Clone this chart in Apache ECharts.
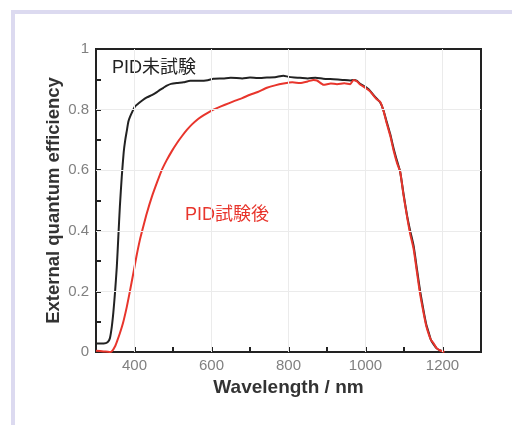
<!DOCTYPE html>
<html><head><meta charset="utf-8">
<script src="https://cdn.jsdelivr.net/npm/echarts@6/dist/echarts.min.js"></script>
<style>html,body{margin:0;padding:0;background:#fff}#c{width:512px;height:425px}</style>
</head><body><div id="c"></div>
<script>
// Wavelength (nm) and EQE for the untested module (PID未試験)
const blackX = [300,320,330,336,341,345,349,354,358,362,367,372,376,380,384,388,395,401,410,420,432,445,455,466,475,484,495,510,527,545,570,590,605,630,650,680,700,720,744,765,787,800,815,830,850,870,890,917,940,960,969,978,986,995,1004,1012,1021,1030,1038,1046,1055,1064,1073,1082,1090,1099,1108,1116,1125,1134,1142,1151,1158,1164,1170,1177,1185,1194,1205,1215];
const blackY = [0.028,0.028,0.032,0.045,0.083,0.13,0.19,0.28,0.38,0.48,0.58,0.66,0.70,0.73,0.76,0.775,0.795,0.81,0.82,0.83,0.84,0.848,0.855,0.865,0.872,0.879,0.885,0.888,0.89,0.895,0.895,0.897,0.902,0.903,0.905,0.903,0.906,0.904,0.906,0.907,0.912,0.908,0.906,0.905,0.903,0.905,0.902,0.900,0.898,0.896,0.898,0.895,0.885,0.878,0.871,0.862,0.848,0.835,0.824,0.80,0.76,0.72,0.672,0.63,0.595,0.52,0.45,0.40,0.35,0.27,0.20,0.135,0.09,0.065,0.04,0.025,0.012,0.005,0.0,0.0];
// Wavelength (nm) and EQE after the PID test (PID試験後)
const redX = [300,320,335,341,350,356,362,370,380,388,397,405,414,423,432,445,458,470,484,497,510,523,536,550,566,580,600,614,635,657,680,700,720,744,765,787,810,830,850,865,874,891,910,926,945,960,969,978,986,995,1004,1012,1021,1030,1038,1046,1055,1064,1073,1082,1090,1099,1108,1116,1125,1134,1142,1151,1158,1164,1170,1177,1185,1194,1205];
const redY = [0.004,0.002,0.0,0.002,0.02,0.04,0.062,0.095,0.149,0.2,0.26,0.315,0.37,0.415,0.458,0.512,0.558,0.598,0.634,0.663,0.689,0.712,0.733,0.752,0.77,0.782,0.797,0.805,0.816,0.827,0.838,0.849,0.858,0.872,0.88,0.886,0.89,0.888,0.893,0.898,0.896,0.882,0.886,0.884,0.887,0.884,0.898,0.893,0.883,0.876,0.868,0.86,0.846,0.833,0.826,0.80,0.755,0.715,0.665,0.623,0.595,0.515,0.446,0.39,0.34,0.26,0.19,0.128,0.085,0.06,0.04,0.028,0.012,0.005,0.0];
const seriesNames = ['PID未試験','PID試験後'];
const xMajor = [400,600,800,1000,1200];
const yMajor = [0.2,0.4,0.6,0.8];

const pair = (xs, ys) => xs.map((x,i)=>[x, ys[i]]);
const font = 'Liberation Sans, Arial, Noto Sans CJK JP, sans-serif';
const chart = echarts.init(document.getElementById('c'), null, {renderer:'canvas'});
const gridMarks = {
  silent:true, symbol:'none', label:{show:false},
  lineStyle:{color:'#ebebeb', width:1, type:'solid'},
  data: xMajor.map(v=>({xAxis:v})).concat(yMajor.map(v=>({yAxis:v})))
};
chart.setOption({
  backgroundColor:'#fff',
  animation:false,
  grid:{left:96, right:31, top:49, bottom:73, show:true, borderColor:'#222', borderWidth:2, backgroundColor:'transparent'},
  xAxis:{
    type:'value', min:300, max:1300, interval:100,
    name:'Wavelength / nm', nameLocation:'middle', nameGap:26, nameMoveOverlap:false,
    nameTextStyle:{fontSize:19, fontWeight:'bold', color:'#333', fontFamily:font},
    axisLine:{show:true, lineStyle:{color:'#222', width:2}},
    axisTick:{show:true, inside:true, length:5, lineStyle:{color:'#222', width:2}},
    axisLabel:{margin:6, fontSize:15, color:'#808080', fontFamily:font, formatter:v=> (v%200===0 && v>300 && v<1300) ? String(v) : ''},
    splitLine:{show:false}
  },
  yAxis:{
    type:'value', min:0, max:1, interval:0.1,
    name:'External quantum efficiency', nameLocation:'middle', nameGap:33, nameMoveOverlap:false,
    nameTextStyle:{fontSize:18.5, fontWeight:'bold', color:'#333', fontFamily:font},
    axisLine:{show:true, lineStyle:{color:'#222', width:2}},
    axisTick:{show:true, inside:true, length:5, lineStyle:{color:'#222', width:2}},
    axisLabel:{margin:7, fontSize:15, color:'#808080', fontFamily:font, formatter:v=>{const r=Math.round(v*10); return r%2===0 ? String(r/10) : '';}},
    splitLine:{show:false}
  },
  series:[
    {name:seriesNames[0], type:'line', data:pair(blackX,blackY), showSymbol:false, smooth:0.2,
     lineStyle:{color:'#222', width:2}, markLine:gridMarks, z:3},
    {name:seriesNames[1], type:'line', data:pair(redX,redY), showSymbol:false, smooth:0.2,
     lineStyle:{color:'#e8352c', width:2}, z:4}
  ],
  graphic:[
    {type:'rect', shape:{x:11,y:10,width:501,height:4}, style:{fill:'#dcdaf0'}, silent:true},
    {type:'rect', shape:{x:11,y:10,width:4,height:415}, style:{fill:'#dcdaf0'}, silent:true},
    {type:'text', left:112, top:59, style:{text:seriesNames[0], fill:'#222', fontSize:18, fontFamily:font}},
    {type:'text', left:185, top:206, style:{text:seriesNames[1], fill:'#e8352c', fontSize:18, fontFamily:font}}
  ]
});
</script></body></html>
